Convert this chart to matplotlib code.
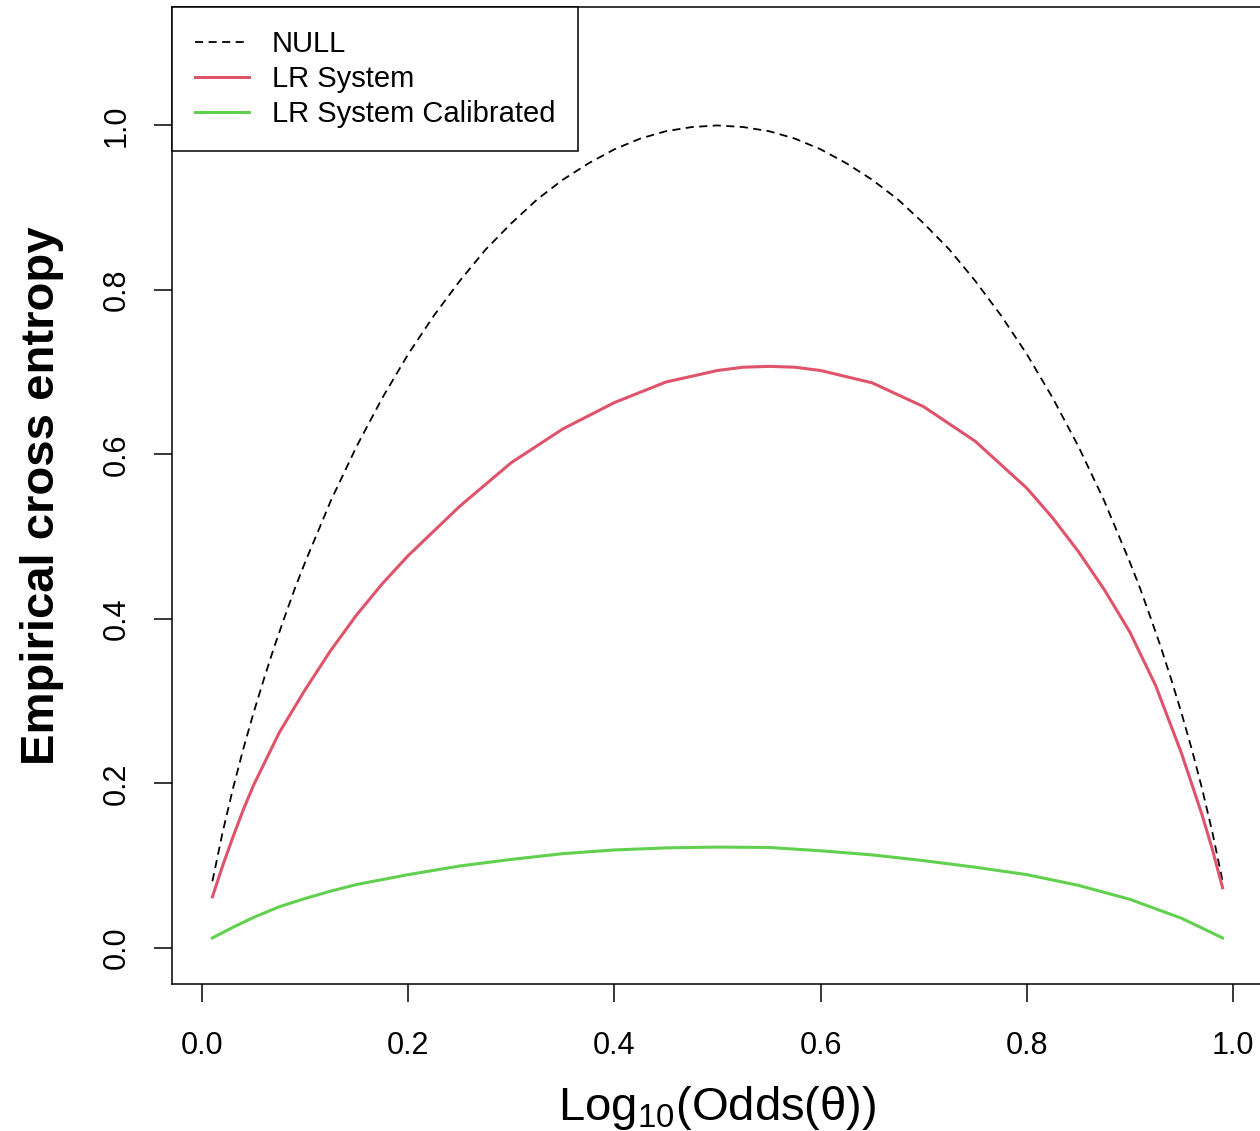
import matplotlib
matplotlib.use("Agg")
import matplotlib.pyplot as plt

plt.rcParams["font.family"] = ["Liberation Sans", "DejaVu Sans"]
plt.rcParams["mathtext.fontset"] = "custom"
plt.rcParams["mathtext.rm"] = "Liberation Sans"
plt.rcParams["mathtext.default"] = "regular"

# Prior log-odds grid and empirical cross entropy values for each system
null_x = [0.01, 0.02, 0.03, 0.04, 0.05, 0.06, 0.07, 0.08, 0.09, 0.10,
          0.125, 0.15, 0.175, 0.20, 0.225, 0.25, 0.275, 0.30, 0.325, 0.35,
          0.375, 0.40, 0.425, 0.45, 0.475, 0.50, 0.525, 0.55, 0.575, 0.60,
          0.625, 0.65, 0.675, 0.70, 0.725, 0.75, 0.775, 0.80, 0.825, 0.85,
          0.875, 0.90, 0.91, 0.92, 0.93, 0.94, 0.95, 0.96, 0.97, 0.98, 0.99]
null_y = [0.081, 0.141, 0.194, 0.242, 0.286, 0.327, 0.366, 0.402, 0.437, 0.469,
          0.544, 0.610, 0.669, 0.722, 0.769, 0.811, 0.849, 0.881, 0.910, 0.934,
          0.954, 0.971, 0.984, 0.993, 0.998, 1.000, 0.998, 0.993, 0.984, 0.971,
          0.954, 0.934, 0.910, 0.881, 0.849, 0.811, 0.769, 0.722, 0.669, 0.610,
          0.544, 0.469, 0.437, 0.402, 0.366, 0.327, 0.286, 0.242, 0.194, 0.141, 0.081]

lr_x = [0.01, 0.02, 0.03, 0.04, 0.05, 0.075, 0.10, 0.125, 0.15, 0.175, 0.20,
        0.225, 0.25, 0.30, 0.35, 0.40, 0.45, 0.50, 0.525, 0.55, 0.575, 0.60,
        0.65, 0.70, 0.75, 0.80, 0.825, 0.85, 0.875, 0.90, 0.925, 0.95, 0.97,
        0.98, 0.99]
lr_y = [0.062, 0.100, 0.135, 0.168, 0.198, 0.262, 0.314, 0.362, 0.405, 0.443, 0.477,
        0.507, 0.537, 0.590, 0.631, 0.663, 0.688, 0.702, 0.706, 0.707, 0.706, 0.702,
        0.687, 0.658, 0.616, 0.559, 0.523, 0.482, 0.436, 0.384, 0.319, 0.237, 0.162,
        0.120, 0.073]

cal_x = [0.01, 0.03, 0.05, 0.075, 0.10, 0.125, 0.15, 0.20, 0.25, 0.30, 0.35,
         0.40, 0.45, 0.50, 0.55, 0.60, 0.65, 0.70, 0.75, 0.80, 0.85, 0.90,
         0.95, 0.99]
cal_y = [0.012, 0.025, 0.037, 0.050, 0.060, 0.069, 0.077, 0.089, 0.0995, 0.1075, 0.1145,
         0.119, 0.1215, 0.1225, 0.122, 0.118, 0.113, 0.106, 0.098, 0.089, 0.076, 0.059,
         0.036, 0.012]

x_ticks = [0.0, 0.2, 0.4, 0.6, 0.8, 1.0]
y_ticks = [0.0, 0.2, 0.4, 0.6, 0.8, 1.0]
series_labels = ["NULL", "LR System", "LR System Calibrated"]

W, H = 1260, 1131
fig = plt.figure(figsize=(W / 100, H / 100), dpi=100)
left, right, top, bottom = 172, 1263, 7, 984
ax = fig.add_axes([left / W, (H - bottom) / H, (right - left) / W, (bottom - top) / H])

ax.plot(null_x, null_y, color="black", linewidth=1.3, linestyle=(0, (4.5, 3.0)),
        label=series_labels[0])
ax.plot(lr_x, lr_y, color="#DF536B", linewidth=2.2, label=series_labels[1])
ax.plot(cal_x, cal_y, color="#61D04F", linewidth=2.2, label=series_labels[2])

ax.set_xlim(-0.0292, 1.0292)
ax.set_ylim(-0.044, 1.144)
ax.set_xticks(x_ticks)
ax.set_yticks(y_ticks)
ax.set_xticklabels([f"{v:.1f}" for v in x_ticks])
ax.set_yticklabels([f"{v:.1f}" for v in y_ticks], rotation=90, va="center")

for s in ax.spines.values():
    s.set_linewidth(1.1)
ax.tick_params(axis="both", length=13, width=1.1, labelsize=22, color="black")
ax.tick_params(axis="x", pad=20.5)
ax.tick_params(axis="y", pad=16)

ax.set_xlabel("Log$_{10}$(Odds(θ))", fontsize=34, labelpad=17)
ax.set_ylabel("Empirical cross entropy", fontsize=34, fontweight="bold", labelpad=27)

leg = ax.legend(loc="upper left", bbox_to_anchor=(0, 1), borderaxespad=0,
                fontsize=21, frameon=True, fancybox=False, borderpad=0.78,
                labelspacing=0.24, handlelength=1.85, handletextpad=0.8)
leg.get_frame().set_edgecolor("black")
leg.get_frame().set_linewidth(1.1)
leg.get_frame().set_alpha(1)

fig.savefig("out.png", dpi=100)
